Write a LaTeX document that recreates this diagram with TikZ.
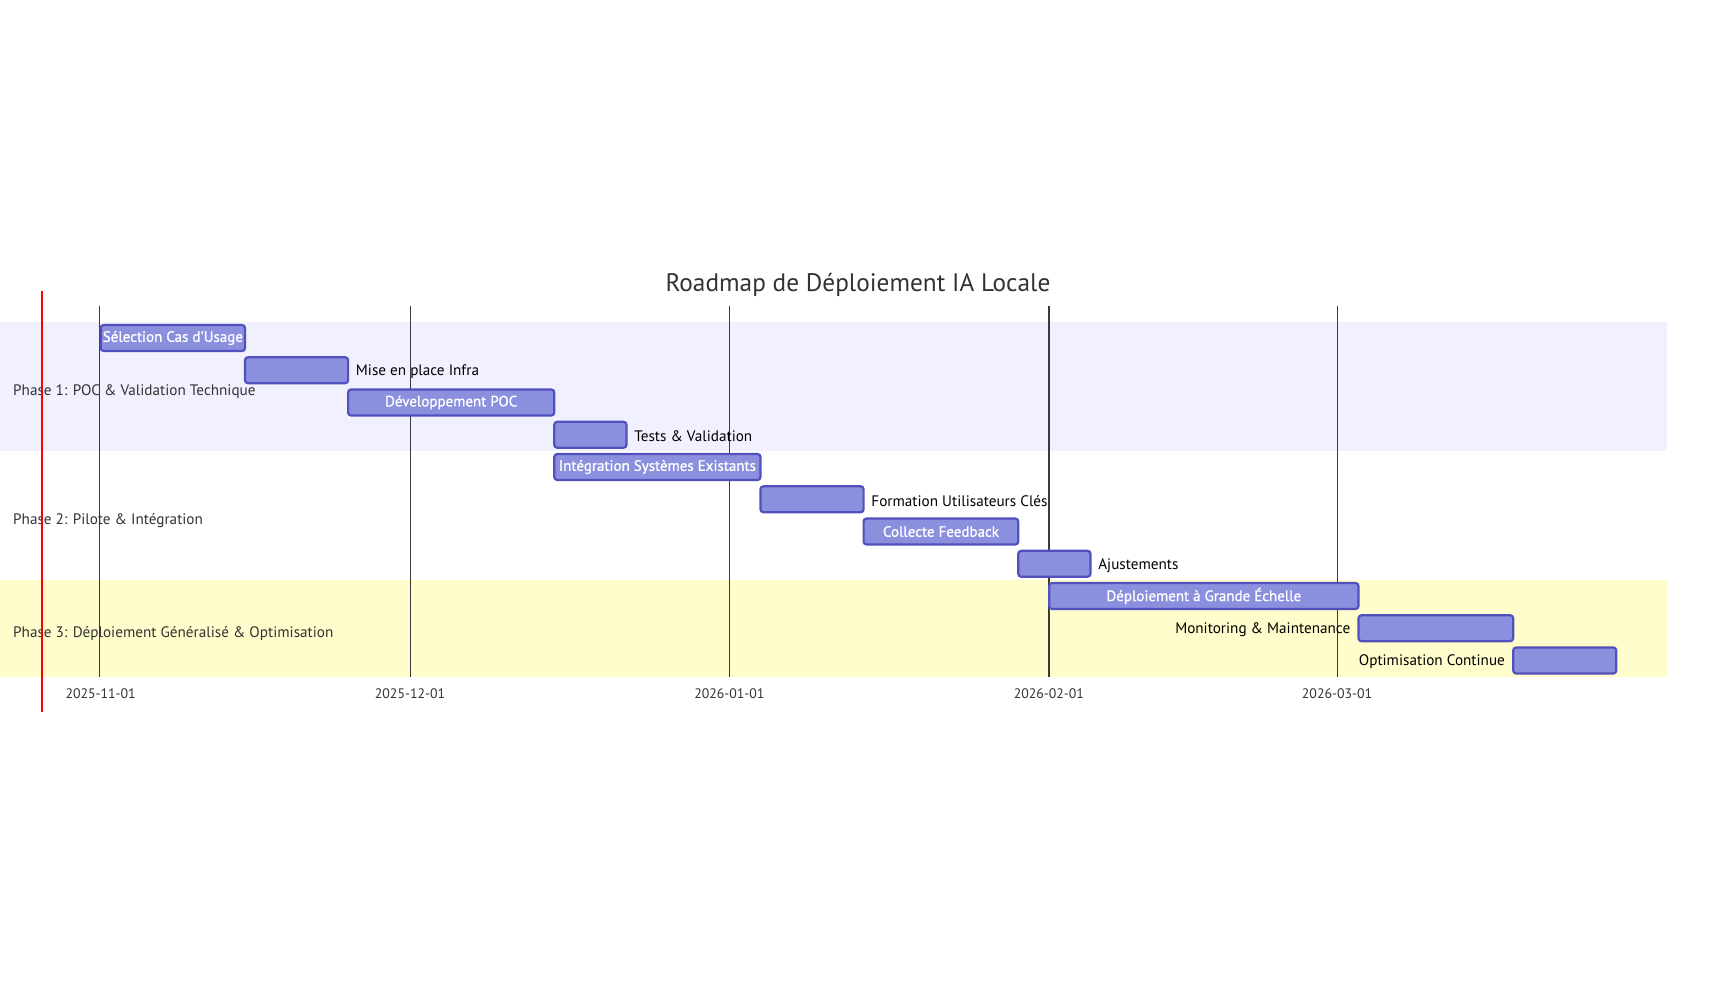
\documentclass[tikz,border=0pt]{standalone}
\usepackage{fontspec}
\setmainfont{PT Sans}
\newfontface\semib{PT Sans}[FakeBold=0.9]
\begin{document}
\begin{tikzpicture}[x=1pt,y=-1pt,
  bar/.style={draw=barline, fill=barfill, line width=2.2pt, rounded corners=3pt,
    minimum height=26pt, inner sep=0pt, anchor=west, text=white,
    font=\semib\fontsize{15}{15}\selectfont},
  outlbl/.style={inner sep=0pt, text=black, font=\fontsize{15.2}{15}\selectfont},
  seclbl/.style={inner sep=0pt, anchor=west, text=txtgray, font=\fontsize{15.2}{15}\selectfont},
  axlbl/.style={inner sep=0pt, text=txtgray, font=\fontsize{13.8}{14}\selectfont},
  gridln/.style={draw=gridgray, line width=1pt},
]
\definecolor{barfill}{HTML}{8A90DD}
\definecolor{barline}{HTML}{534FBC}
\definecolor{secA}{HTML}{F0F0FF}
\definecolor{secC}{HTML}{FFFDCC}
\definecolor{txtgray}{HTML}{333333}
\definecolor{gridgray}{HTML}{3A3A3A}
\useasboundingbox[fill=white] (0,0) rectangle (1717,1004);

% section bands
\fill[secA] (0,322) rectangle (1667,451);
\fill[secC] (0,580) rectangle (1667,677);

% grid lines
\coordinate (g1t) at (99.6,305.5);   \coordinate (g1b) at (99.6,677);
\coordinate (g2t) at (410.0,305.5);  \coordinate (g2b) at (410.0,677);
\coordinate (g3t) at (729.3,305.5);  \coordinate (g3b) at (729.3,677);
\coordinate (g4t) at (1048.8,305.5); \coordinate (g4b) at (1048.8,677);
\coordinate (g5t) at (1337.0,305.5); \coordinate (g5b) at (1337.0,677);
\draw[gridln] (g1t) -- (g1b);
\draw[gridln] (g2t) -- (g2b);
\draw[gridln] (g3t) -- (g3b);
\draw[gridln, line width=1.6pt] (g4t) -- (g4b);
\draw[gridln] (g5t) -- (g5b);

% axis labels
\node[axlbl] (a1) at (100.6,693.5) {2025-11-01};
\node[axlbl] (a2) at (410.0,693.5) {2025-12-01};
\node[axlbl] (a3) at (729.3,693.5) {2026-01-01};
\node[axlbl] (a4) at (1048.8,693.5) {2026-02-01};
\node[axlbl] (a5) at (1337.0,693.5) {2026-03-01};

% section labels
\node[seclbl] (s1) at (13,391.5) {Phase 1: POC \& Validation Technique};
\node[seclbl] (s2) at (13,520.5) {Phase 2: Pilote \& Intégration};
\node[seclbl] (s3) at (13,633.5) {Phase 3: Déploiement Généralisé \& Optimisation};

% tasks
\node[bar, minimum width=144.3pt] (t1) at (99.6,338) {\raisebox{-1.5pt}{Sélection Cas d'Usage}};
\node[bar, minimum width=103.1pt] (t2) at (243.9,370.25) {};
\node[bar, minimum width=206.2pt] (t3) at (347.0,402.5) {\raisebox{-1.5pt}{Développement POC}};
\node[bar, minimum width=72.2pt] (t4) at (553.2,434.75) {};
\node[bar, minimum width=206.2pt] (t5) at (553.2,467) {\raisebox{-1.5pt}{Intégration Systèmes Existants}};
\node[bar, minimum width=103.1pt] (t6) at (759.4,499.25) {};
\node[bar, minimum width=154.7pt] (t7) at (862.5,531.5) {\raisebox{-1.5pt}{Collecte Feedback}};
\node[bar, minimum width=72.2pt] (t8) at (1017.2,563.75) {};
\node[bar, minimum width=309.3pt] (t9) at (1048.1,596) {\raisebox{-1.5pt}{Déploiement à Grande Échelle}};
\node[bar, minimum width=154.7pt] (t10) at (1357.4,628.25) {};
\node[bar, minimum width=103.1pt] (t11) at (1512.1,660.5) {};

% outside labels
\node[outlbl, anchor=west] (l2) at ([xshift=6.5pt,yshift=-1.5pt]t2.east) {Mise en place Infra};
\node[outlbl, anchor=west] (l4) at ([xshift=6.5pt,yshift=-1.5pt]t4.east) {Tests \& Validation};
\node[outlbl, anchor=west] (l6) at ([xshift=6.5pt,yshift=-1.5pt]t6.east) {Formation Utilisateurs Clés};
\node[outlbl, anchor=west] (l8) at ([xshift=6.5pt,yshift=-1.5pt]t8.east) {Ajustements};
\node[outlbl, anchor=east] (l10) at ([xshift=-7pt,yshift=-1.5pt]t10.west) {Monitoring \& Maintenance};
\node[outlbl, anchor=east] (l11) at ([xshift=-7pt,yshift=-1.5pt]t11.west) {Optimisation Continue};

% title
\node[inner sep=0pt, text=txtgray, font=\fontsize{25.3}{26}\selectfont] (title) at (858,285) {Roadmap de Déploiement IA Locale};

% today marker
\coordinate (rt) at (41.6,291);
\coordinate (rb) at (41.6,712);
\draw[red, line width=2.2pt] (rt) -- (rb);
\end{tikzpicture}
\end{document}
